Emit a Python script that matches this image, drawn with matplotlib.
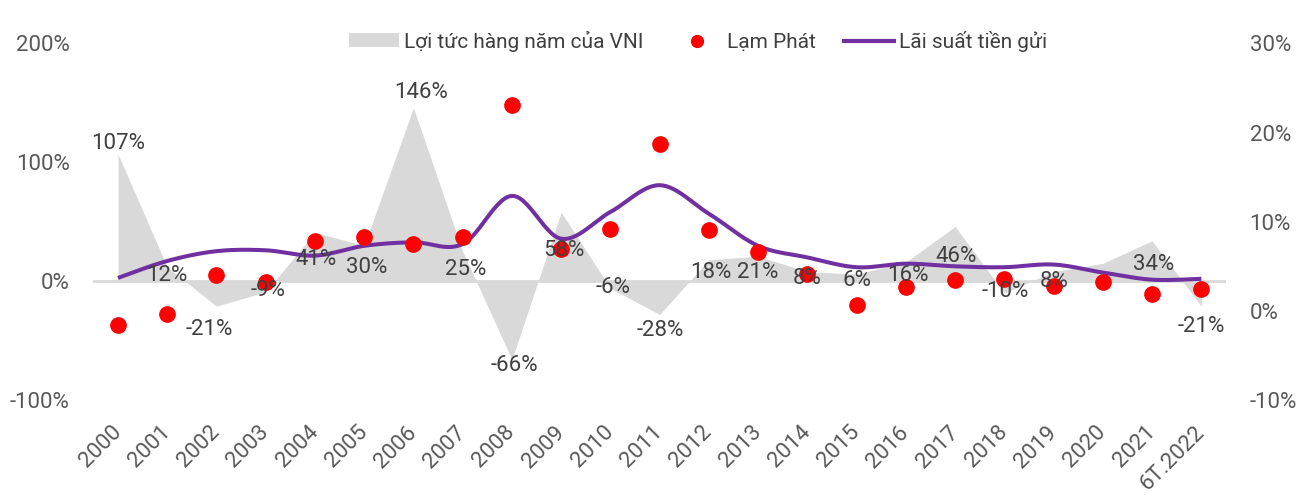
import numpy as np
import matplotlib
matplotlib.use("Agg")
from matplotlib import pyplot as plt
from matplotlib.patches import Patch
from matplotlib.lines import Line2D

plt.rcParams['font.family'] = ['Roboto', 'DejaVu Sans']

years = ['2000', '2001', '2002', '2003', '2004', '2005', '2006', '2007', '2008',
         '2009', '2010', '2011', '2012', '2013', '2014', '2015', '2016', '2017',
         '2018', '2019', '2020', '2021', '6T.2022']
# loi tuc VNI (%), truc trai
vni = [107, 12, -21, -9, 41, 30, 146, 25, -66, 58, -6, -28, 18, 21, 8, 6, 16, 46,
       -10, 8, 15, 34, -21]
vni_labels = ['107%', '12%', '-21%', '-9%', '41%', '30%', '146%', '25%', '-66%',
              '58%', '-6%', '-28%', '18%', '21%', '8%', '6%', '16%', '46%',
              '-10%', '8%', '', '34%', '-21%']
# lam phat (%), truc phai
inflation = [-1.6, -0.4, 4.0, 3.2, 7.8, 8.3, 7.5, 8.3, 23.1, 6.9, 9.2, 18.7, 9.1,
             6.6, 4.1, 0.7, 2.7, 3.5, 3.6, 2.8, 3.2, 1.9, 2.5]
# lai suat tien gui (%), truc phai
deposit = [3.7, 5.6, 6.7, 6.8, 6.2, 7.3, 7.7, 7.5, 12.9, 8.1, 11.1, 14.1, 10.9,
           7.3, 6.0, 4.9, 5.3, 5.0, 4.9, 5.2, 4.3, 3.5, 3.6]

# vi tri nhan (px so voi dinh), dx, dy
label_dx = [0, 0, -7, 2, 1, 2, 8, 3, 3, 3, 3, 1, 2, 0, 0, 0, 2, 1, 1, 1, 0, 2, 0]
label_dy = [-11, 9, 23, -1.5, 27, 22, -15, 18, 6, 38, -1, 16, 13, 16.5, 6.5, 6.5,
            13.5, 30, -2, 10, 0, 24, 20]

GRAY = '#d9d9d9'
RED = '#ff0000'
PURPLE = '#7030a0'
TXT = '#404040'
TICK = '#595959'


def smooth(x, y, n=30):
    # duong cong kieu Excel (Catmull-Rom / Bezier)
    x = np.asarray(x, float)
    y = np.asarray(y, float)
    px = np.concatenate([[x[0]], x, [x[-1]]])
    py = np.concatenate([[y[0]], y, [y[-1]]])
    xs, ys = [], []
    t = np.linspace(0, 1, n)
    for i in range(1, len(px) - 2):
        p0 = np.array([px[i], py[i]])
        p3 = np.array([px[i + 1], py[i + 1]])
        c1 = p0 + (np.array([px[i + 1], py[i + 1]]) - np.array([px[i - 1], py[i - 1]])) / 6
        c2 = p3 - (np.array([px[i + 2], py[i + 2]]) - np.array([px[i], py[i]])) / 6
        b = ((1 - t) ** 3)[:, None] * p0 + (3 * (1 - t) ** 2 * t)[:, None] * c1 \
            + (3 * (1 - t) * t ** 2)[:, None] * c2 + (t ** 3)[:, None] * p3
        xs.extend(b[:, 0])
        ys.extend(b[:, 1])
    return np.array(xs), np.array(ys)


fig = plt.figure(figsize=(13.02, 4.96), dpi=100)
ax = fig.add_axes([0.0717, 0.1935, 0.8699, 0.7188])
ax2 = ax.twinx()

x = np.arange(len(years))
ax.fill_between(x, vni, 0, color=GRAY, linewidth=0, zorder=1)
ax.axhline(0, color=GRAY, lw=2, zorder=1)
ax.set_ylim(-100, 200)
ax.set_xlim(-0.5, len(years) - 0.5)
ax.set_yticks([-100, 0, 100, 200])
ax.set_yticklabels(['%d%%' % v for v in [-100, 0, 100, 200]])

sx, sy = smooth(x, deposit)
ax2.plot(sx, sy, color=PURPLE, lw=2.9, zorder=2, solid_capstyle='butt')
ax2.plot(x, inflation, 'o', color=RED, ms=11, zorder=3)
ax2.set_ylim(-10, 30)
ax2.set_yticks([-10, 0, 10, 20, 30])
ax2.set_yticklabels(['%d%%' % v for v in [-10, 0, 10, 20, 30]])

# nhan du lieu ve tren cung
for i, lab in enumerate(vni_labels):
    if not lab:
        continue
    ax2.annotate(lab, xy=(x[i], vni[i]), xycoords=ax.transData,
                 xytext=(label_dx[i] * 0.72, -label_dy[i] * 0.72),
                 textcoords='offset points', ha='center', va='center',
                 fontsize=16, color=TXT, zorder=5)

for a in (ax, ax2):
    for s in a.spines.values():
        s.set_visible(False)
    a.tick_params(length=0, labelsize=16, labelcolor=TICK)
ax.tick_params(axis='y', pad=17)
ax2.tick_params(axis='y', pad=17)

ax.set_xticks(x)
ax.set_xticklabels(years, rotation=45, rotation_mode='anchor', ha='right', va='center')
ax.tick_params(axis='x', pad=21)

handles = [Patch(facecolor=GRAY, edgecolor='none'),
           Line2D([], [], marker='o', color=RED, ls='none', ms=8.5),
           Line2D([], [], color=PURPLE, lw=3)]
names = ['Lợi tức hàng năm của VNI', 'Lạm Phát', 'Lãi suất tiền gửi']
leg = fig.legend(handles, names, loc='center', bbox_to_anchor=(0.536, 0.917),
                 ncol=3, frameon=False, fontsize=15, handlelength=2.4,
                 handleheight=0.65, handletextpad=0.25, columnspacing=1.35,
                 labelcolor=TXT)

fig.savefig('out.png', dpi=100)
